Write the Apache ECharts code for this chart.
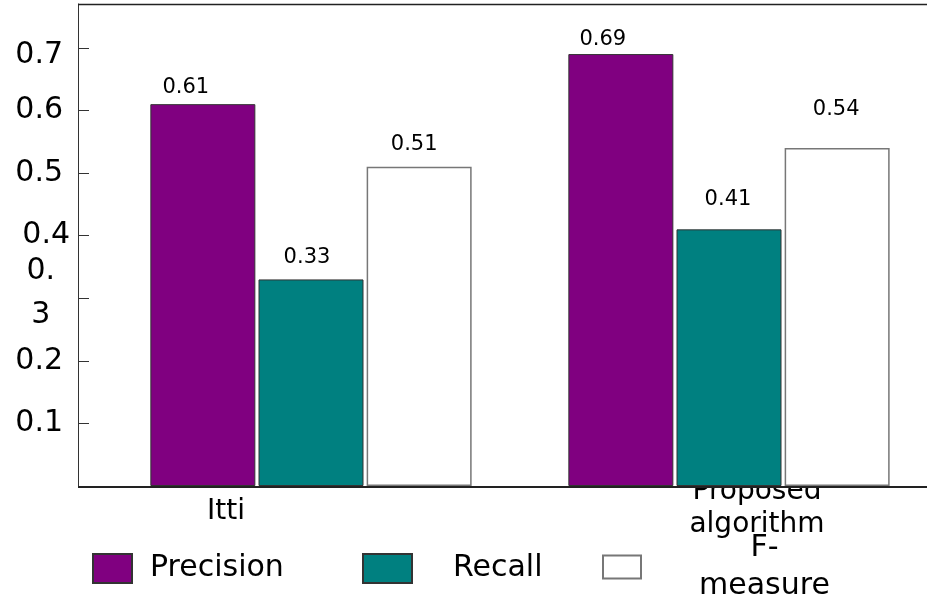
<!DOCTYPE html>
<html>
<head>
<meta charset="utf-8">
<title>Precision / Recall / F-measure</title>
<script src="https://cdn.jsdelivr.net/npm/echarts@6/dist/echarts.min.js"></script>
<style>
  html, body { margin: 0; padding: 0; background: #fff; }
  #chart { width: 927px; height: 603px; }
</style>
</head>
<body>
<div id="chart"></div>
<script>
// Data
const categories = ['Itti', 'Proposed algorithm'];
const seriesNames = ['Precision', 'Recall', 'F-measure'];
const precision = [0.61, 0.69];
const recall = [0.33, 0.41];
const fMeasure = [0.51, 0.54];
const yTickLabels = ['0.1', '0.2', '0.3', '0.4', '0.5', '0.6', '0.7'];

// Styling
const FONT = '"DejaVu Sans", "Liberation Sans", Arial, sans-serif';
const colors = ['#800080', '#008080', '#ffffff'];
const borders = [['#333333', 1], ['#333333', 1], ['#777777', 1.5]];
// per-bar label nudges: [horizontal offset, distance above bar]
const labelNudges = [
  [[-17, 6], [-18, 4]],
  [[-4, 11], [-1, 19]],
  [[-5, 12], [-1, 28]]
];

const values = [precision, recall, fMeasure];

const series = seriesNames.map((name, s) => ({
  name,
  type: 'bar',
  barWidth: 105,
  barGap: '3%',
  itemStyle: { color: colors[s], borderColor: borders[s][0], borderWidth: borders[s][1] },
  label: {
    show: true,
    position: 'top',
    color: '#000',
    fontFamily: FONT,
    fontSize: 21,
    formatter: p => p.value.toFixed(2)
  },
  data: values[s].map((v, i) => ({
    value: v,
    label: { offset: [labelNudges[s][i][0], 0], distance: labelNudges[s][i][1] }
  }))
}));

const legendText = { color: '#000', fontFamily: FONT, fontSize: 30 };

const option = {
  animation: false,
  backgroundColor: '#fff',
  grid: { left: 102, right: -11, top: 4, bottom: 117, containLabel: false, outerBoundsMode: 'none' },
  xAxis: {
    type: 'category',
    data: categories,
    z: 0,
    axisLine: { show: false },
    axisTick: { show: false },
    axisLabel: {
      interval: 0,
      margin: -11,
      color: '#000',
      fontFamily: FONT,
      fontSize: 28,
      formatter: v => v === categories[0]
        ? '{a|' + v + '}'
        : '{b|' + v.split(' ').join('}\n{b|') + '}',
      rich: {
        a: { fontFamily: FONT, fontSize: 28, color: '#000', padding: [23, 170, 0, 0] },
        b: { fontFamily: FONT, fontSize: 28, color: '#000', lineHeight: 33, padding: [0, 0, 0, 56] }
      }
    }
  },
  yAxis: {
    type: 'value',
    min: 0,
    max: 0.77,
    interval: 0.1,
    offset: 24,
    z: 3,
    splitLine: { show: false },
    axisLine: { show: true, lineStyle: { color: '#333', width: 1 } },
    axisTick: { show: true, inside: true, length: 11, lineStyle: { color: '#333', width: 1 } },
    axisLabel: {
      margin: 8,
      color: '#000',
      fontFamily: FONT,
      fontSize: 30,
      formatter: v => {
        const s = yTickLabels.find(t => Math.abs(parseFloat(t) - v) < 1e-9);
        if (!s) return '';
        if (s === '0.3') return '{s|0.}\n{s|3}\n{e| }';
        if (s === '0.7') return '{lo|' + s + '}';
        if (s === '0.4') return '{r|' + s + '}';
        return '{n|' + s + '}';
      },
      rich: {
        n: { fontFamily: FONT, fontSize: 30, color: '#000', padding: [0, 7, 0, 0] },
        lo: { fontFamily: FONT, fontSize: 30, color: '#000', padding: [14, 7, 0, 0] },
        r: { fontFamily: FONT, fontSize: 30, color: '#000' },
        s: { fontFamily: FONT, fontSize: 30, color: '#000', align: 'center', lineHeight: 44, padding: [0, 15, 0, 0] },
        e: { fontSize: 4, lineHeight: 10 }
      }
    }
  },
  legend: [
    {
      data: [seriesNames[0]], left: 92, top: 553, padding: 0, icon: 'rect',
      itemWidth: 39, itemHeight: 29,
      formatter: '{t|{name}}',
      textStyle: Object.assign({}, legendText, { rich: { t: Object.assign({}, legendText, { padding: [0, 0, 0, 13] }) } })
    },
    {
      data: [seriesNames[1]], left: 362, top: 553, padding: 0, icon: 'rect',
      itemWidth: 49, itemHeight: 29,
      formatter: '{t|{name}}',
      textStyle: Object.assign({}, legendText, { rich: { t: Object.assign({}, legendText, { padding: [0, 0, 0, 36] }) } })
    },
    {
      data: [seriesNames[2]], left: 602, top: 533, padding: 0, icon: 'rect',
      itemWidth: 38, itemHeight: 23,
      formatter: name => '{c|' + name.replace('-', '-}\n{c|') + '}',
      textStyle: Object.assign({}, legendText, {
        rich: { c: Object.assign({}, legendText, { align: 'center', lineHeight: 38, padding: [0, 0, 0, 53] }) }
      })
    }
  ],
  graphic: [
    // plot background sits over the category labels, under the bars
    { type: 'rect', z: 1, silent: true, shape: { x: 79, y: 5, width: 848, height: 481 }, style: { fill: '#fff' } },
    { type: 'line', z: 5, silent: true, shape: { x1: 78, y1: 4.5, x2: 927, y2: 4.5 }, style: { stroke: '#222', lineWidth: 1.5 } },
    { type: 'line', z: 5, silent: true, shape: { x1: 78, y1: 487, x2: 927, y2: 487 }, style: { stroke: '#222', lineWidth: 2 } }
  ],
  series
};

const chart = echarts.init(document.getElementById('chart'), null, { renderer: 'canvas' });
chart.setOption(option);
</script>
</body>
</html>
